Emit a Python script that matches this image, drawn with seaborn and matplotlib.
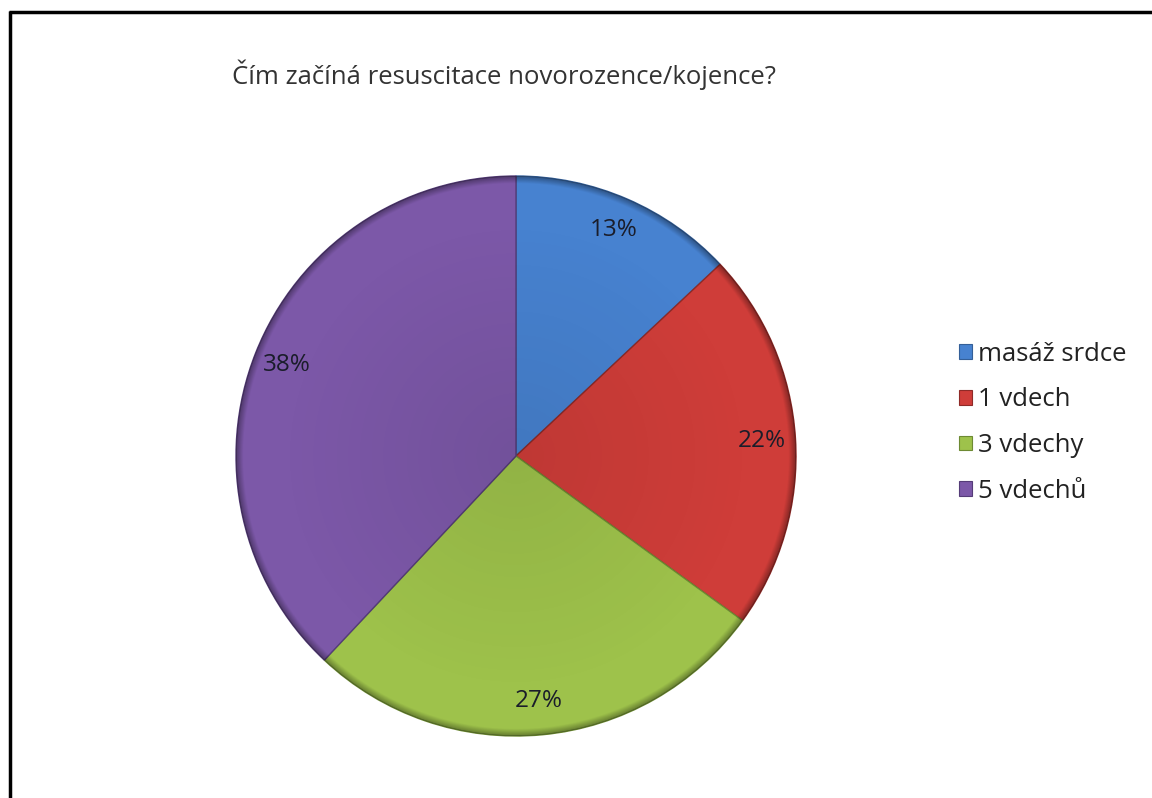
import numpy as np
import matplotlib
matplotlib.use("Agg")
import matplotlib.pyplot as plt
from matplotlib.lines import Line2D
from matplotlib.patches import Patch
import seaborn as sns

# Survey answers and their shares (percent)
categories = ["masáž srdce", "1 vdech", "3 vdechy", "5 vdechů"]
shares = [13, 22, 27, 38]
slice_colors = ["#4782d0", "#cf3d39", "#9ec24b", "#7c58a8"]
edge_colors = ["#345f98", "#8f2a27", "#6d8a33", "#553c78"]
title = "Čím začíná resuscitace novorozence/kojence?"

sns.set_theme(style="white")
plt.rcParams["font.family"] = ["Open Sans", "DejaVu Sans"]

fig = plt.figure(figsize=(11.52, 7.98), dpi=100)
fig.patch.set_facecolor("white")

W, H = 1152, 798
cx, cy, r = 516, 456, 280
ax = fig.add_axes([(cx - r) / W, 1 - (cy + r) / H, 2 * r / W, 2 * r / H])

wedges, texts, autotexts = ax.pie(
    shares, colors=slice_colors, startangle=90, counterclock=False,
    radius=1.0, autopct="%1.0f%%", pctdistance=0.88,
    textprops=dict(fontsize=17.5, color="#1a1d2a"),
)
for w, e in zip(wedges, edge_colors):
    w.set_edgecolor(e)
    w.set_linewidth(1.0)
ax.set_xlim(-1, 1)
ax.set_ylim(-1, 1)
ax.set_aspect("equal")
ax.axis("off")

# Soft shading: slightly darker towards the centre and a dark rim at the edge
n = 700
xs = np.linspace(-1, 1, n)
X, Y = np.meshgrid(xs, xs)
R = np.sqrt(X ** 2 + Y ** 2)
shade = np.zeros((n, n, 4))
inner = np.clip(0.08 * (1 - R / 0.85), 0, 0.08)
rim = np.clip((R - 0.975) / 0.025, 0, 1) * 0.35
shade[..., 3] = inner + rim
for w in wedges:
    im = ax.imshow(shade, extent=(-1, 1, -1, 1), origin="lower",
                   zorder=w.get_zorder() + 0.1, interpolation="bilinear")
    im.set_clip_path(w)
for t in autotexts:
    t.set_zorder(5)

fig.text(232 / W, 1 - 75 / H, title, fontsize=18.5, color="#333333",
         ha="left", va="center")

handles = [Patch(facecolor=c, edgecolor=e, linewidth=0.8) for c, e in zip(slice_colors, edge_colors)]
fig.legend(handles, categories, loc="upper left", bbox_to_anchor=(946 / W, 1 - 329 / H),
           frameon=False, fontsize=18.5, handlelength=0.5, handleheight=0.5,
           handletextpad=0.25, labelspacing=0.8, borderpad=0, labelcolor="#222222")

# Frame lines along the left and top edges
fig.add_artist(Line2D([10 / W, 10 / W], [0, 1 - 11 / H], color="black", lw=2.5,
                      transform=fig.transFigure, solid_capstyle="butt"))
fig.add_artist(Line2D([9 / W, 1], [1 - 11.5 / H, 1 - 11.5 / H], color="black", lw=2.5,
                      transform=fig.transFigure, solid_capstyle="butt"))

fig.savefig("out.png", dpi=100, facecolor="white")
